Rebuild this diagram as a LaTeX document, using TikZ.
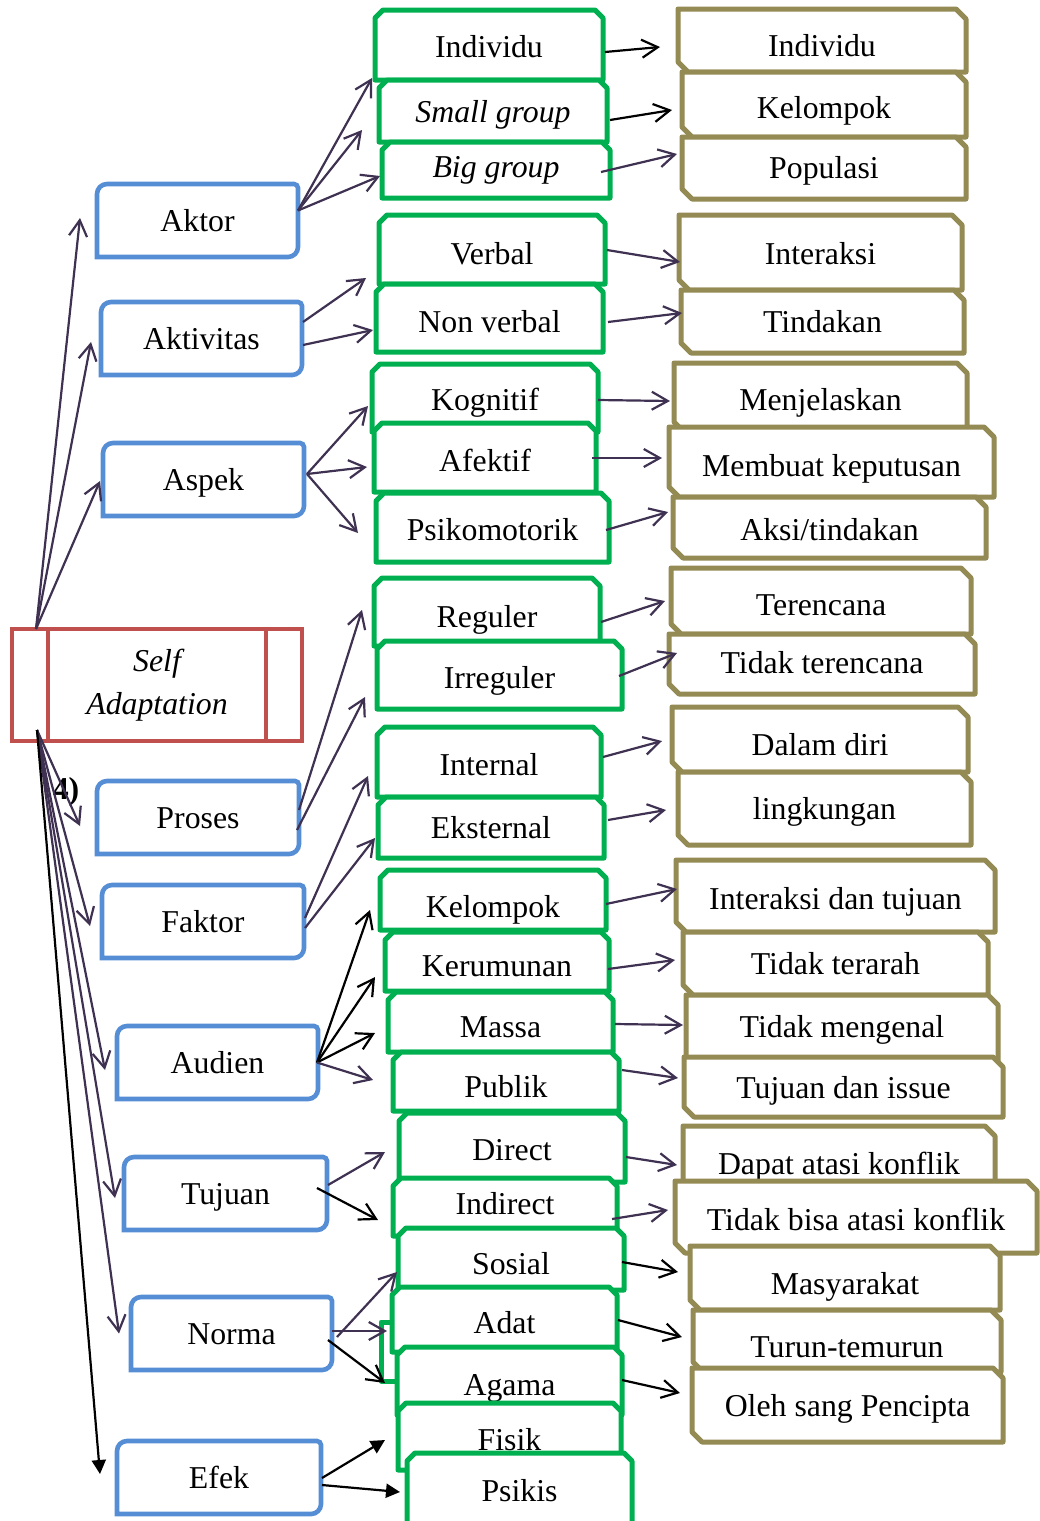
\documentclass[tikz,border=0pt]{standalone}
\usepackage{fontspec}
\setmainfont{Liberation Serif}
\usetikzlibrary{arrows.meta}
\definecolor{gcol}{HTML}{00B050}
\definecolor{ocol}{HTML}{948A54}
\definecolor{bcol}{HTML}{558ED5}
\definecolor{rcol}{HTML}{C0504D}
\definecolor{pcol}{HTML}{3F3151}
\newdimen\unitpx \unitpx=0.5pt
\tikzset{
 gline/.style={draw=gcol, fill=white, line width=2.5pt, line join=round},
 oline/.style={draw=ocol, fill=white, line width=2.5pt, line join=round},
 bline/.style={draw=bcol, fill=white, line width=2.3pt},
 rline/.style={draw=rcol, line width=2.2pt},
 tbox/.style={inner sep=0pt, outer sep=0pt, text height=14.3pt, text depth=3.8pt, font=\fontsize{15.9}{19}\selectfont},
 parr/.style={draw=pcol, line width=1.1pt, -{Straight Barb[length=8pt,width=9pt]}},
 karr/.style={draw=black, line width=1.1pt, -{Straight Barb[length=8pt,width=9pt]}},
 farr/.style={draw=black, line width=1.1pt, -{Triangle[length=7pt,width=7pt]}},
}
% name, x1, y1, x2, y2, text
\newcommand\BBox[6]{%
 \filldraw[bline] (#2,#5) [rounded corners=5pt] -- (#2,#3) [rounded corners=2pt] -- (#4,#3) [rounded corners=5pt] -- (#4,#5) [sharp corners] -- (#2,#5) -- cycle;
 \node[tbox, minimum width={(#4-#2)*0.5pt}, minimum height={(#5-#3)*0.5pt}] (#1) at ({(#2+#4)/2},{(#3+#5)/2}) {#6};}
% [drop], name, x1, y1, x2, y2, text
\newcommand\GBox[7][0]{%
 \filldraw[gline] ({#3+8},#4) -- ({#5-8},#4) -- (#5,{#4+8}) -- (#5,#6) -- (#3,#6) -- (#3,{#4+8}) -- cycle;
 \node[tbox, minimum width={(#5-#3)*0.5pt}, minimum height={(#6-#4)*0.5pt}] (#2) at ({(#3+#5)/2},{(#4+#6)/2}) {\raisebox{-#1\unitpx}{#7}};}
\newcommand\OBox[7][0]{%
 \filldraw[oline] (#3,#4) -- ({#5-10},#4) -- (#5,{#4+10}) -- (#5,#6) -- ({#3+10},#6) -- (#3,{#6-10}) -- cycle;
 \node[tbox, minimum width={(#5-#3)*0.5pt}, minimum height={(#6-#4)*0.5pt}] (#2) at ({(#3+#5)/2},{(#4+#6)/2}) {\raisebox{-#1\unitpx}{#7}};}

\begin{document}
\begin{tikzpicture}[x=0.5pt, y=-0.5pt]
\useasboundingbox[fill=white] (0,0) rectangle (1039,1521);

% left column
\BBox{aktor}{97}{184}{298}{257}{Aktor}
\BBox{aktiv}{101}{302}{302}{375}{Aktivitas}
\BBox{aspek}{103}{443}{304}{516}{Aspek}
\BBox{proses}{97}{781}{299}{854}{Proses}
\BBox{faktor}{102}{885}{304}{958}{Faktor}
\BBox{audien}{117}{1026}{318}{1099}{Audien}
\BBox{tujuan}{124}{1157}{327}{1230}{Tujuan}
\BBox{norma}{131}{1297}{332}{1370}{Norma}
\BBox{efek}{117}{1441}{321}{1514}{Efek}

% Self Adaptation
\filldraw[rline, fill=white] (12,629) rectangle (302,741);
\draw[rline] (48,629) -- (48,741);
\draw[rline] (266,629) -- (266,741);
\node[inner sep=0pt, outer sep=0pt, minimum width=145pt, minimum height=56pt, align=center,
      font=\fontsize{15.9}{21.5}\selectfont\itshape] (sa) at (157,685) {Self\\Adaptation};

\node[inner sep=0pt, font=\fontsize{15.9}{19}\selectfont\bfseries] (four) at (66,792) {4)};

% middle column
\GBox[2]{g1}{375}{10}{603}{80}{Individu}
\GBox[1]{g2}{379}{80}{607}{142}{\textit{Small group}}
\GBox[-3]{g3}{382}{142}{610}{198}{\textit{Big group}}
\GBox[4.5]{g4}{379}{215}{605}{284}{Verbal}
\GBox[4]{g5}{376}{284}{603}{352}{Non verbal}
\GBox[2]{g6}{372}{364}{598}{432}{Kognitif}
\GBox[3.5]{g7}{374}{423}{596}{492}{Afektif}
\GBox[2.5]{g8}{376}{493}{609}{562}{Psikomotorik}
\GBox[5]{g9}{374}{578}{600}{646}{Reguler}
\GBox[3]{g10}{377}{641}{622}{709}{Irreguler}
\GBox[3]{g11}{377}{727}{601}{797}{Internal}
\GBox[0.5]{g12}{378}{797}{604}{858}{Eksternal}
\GBox[7]{g13}{380}{870}{606}{930}{Kelompok}
\GBox[4.5]{g14}{385}{932}{609}{991}{Kerumunan}
\GBox[5]{g15}{388}{992}{613}{1052}{Massa}
\GBox[5.5]{g16}{393}{1052}{619}{1111}{Publik}
\GBox[2.5]{g17}{399}{1113}{625}{1182}{Direct}
\GBox[-3]{g18}{393}{1178}{617}{1236}{Indirect}
\GBox[5]{g19}{398}{1228}{624}{1290}{Sosial}
\draw[gline, fill=none] (396,1322) -- (381,1322) -- (381,1381) -- (398,1381);
\GBox[3.5]{g20}{392}{1287}{617}{1352}{Adat}
\GBox[4]{g21}{397}{1347}{622}{1415}{Agama}
\GBox[3.5]{g22}{398}{1403}{621}{1470}{Fisik}
\GBox[1.5]{g23}{407}{1453}{632}{1526}{Psikis}

% right column
\OBox[5.5]{o1}{678}{9}{966}{72}{Individu}
\OBox[3.5]{o2}{682}{72}{966}{137}{Kelompok}
\OBox[0]{o3}{682}{137}{966}{199}{Populasi}
\OBox[1.5]{o4}{679}{215}{962}{290}{Interaksi}
\OBox[0.5]{o5}{681}{290}{964}{353}{Tindakan}
\OBox[2.5]{o6}{674}{363}{967}{432}{Menjelaskan}
\OBox[4]{o7}{669}{427}{994}{497}{Membuat keputusan}
\OBox[2.5]{o8}{673}{497}{986}{558}{Aksi/tindakan}
\OBox[4]{o9}{671}{568}{971}{634}{Terencana}
\OBox[-1]{o10}{669}{634}{975}{694}{Tidak terencana}
\OBox[5.5]{o11}{672}{707}{968}{772}{Dalam diri}
\OBox[0]{o12}{678}{772}{971}{845}{lingkungan}
\OBox[3]{o13}{676}{860}{995}{932}{Interaksi dan tujuan}
\OBox[0]{o14}{683}{932}{988}{995}{Tidak terarah}
\OBox[-4.5]{o15}{686}{995}{998}{1068}{Tidak mengenal}
\OBox[1]{o16}{684}{1057}{1003}{1117}{Tujuan dan issue}
\OBox[4]{o17}{683}{1126}{995}{1194}{Dapat atasi konflik}
\OBox[3]{o18}{675}{1181}{1037}{1253}{Tidak bisa atasi konflik}
\OBox[6]{o19}{690}{1246}{1000}{1310}{Masyarakat}
\OBox[6]{o20}{693}{1310}{1001}{1372}{Turun-temurun}
\OBox[1]{o21}{692}{1368}{1003}{1442}{Oleh sang Pencipta}

% arrows from Self Adaptation
\draw[parr] ([shift={(24,0)}]sa.north west) -- ([shift={(-17,-2.5)}]aktor.west);
\draw[parr] ([shift={(24,0)}]sa.north west) -- ([shift={(-10,3.5)}]aktiv.west);
\draw[parr] ([shift={(24,0)}]sa.north west) -- ([shift={(-3,1.5)}]aspek.west);
\draw[parr] ([shift={(25,-11)}]sa.south west) -- ([shift={(-17,8.5)}]proses.west);
\draw[parr] ([shift={(25,-11)}]sa.south west) -- ([shift={(-12,4.5)}]faktor.west);
\draw[parr] ([shift={(25,-11)}]sa.south west) -- ([shift={(-12,7.5)}]audien.west);
\draw[parr] ([shift={(25,-11)}]sa.south west) -- ([shift={(-9,4.5)}]tujuan.west);
\draw[parr] ([shift={(25,-11)}]sa.south west) -- ([shift={(-12,0)}]norma.west);
\draw[farr] ([shift={(25,-11)}]sa.south west) -- ([shift={(-17,-3.5)}]efek.west);

% left to middle
\draw[parr] ([shift={(0,-10)}]aktor.east) -- ([shift={(-3,33)}]g1.west);
\draw[parr] ([shift={(0,-10)}]aktor.east) -- ([shift={(-17,19)}]g2.west);
\draw[parr] ([shift={(0,-10)}]aktor.east) -- ([shift={(-2,6)}]g3.west);
\draw[parr] ([shift={(1,-16.5)}]aktiv.east) -- ([shift={(-13,28.5)}]g4.west);
\draw[parr] ([shift={(1,6.5)}]aktiv.east) -- ([shift={(-3,12)}]g5.west);
\draw[parr] ([shift={(3,-5.5)}]aspek.east) -- ([shift={(-4,8)}]g6.west);
\draw[parr] ([shift={(3,-5.5)}]aspek.east) -- ([shift={(-7,9.5)}]g7.west);
\draw[parr] ([shift={(3,-5.5)}]aspek.east) -- ([shift={(-18,5.5)}]g8.west);
\draw[parr] ([shift={(0,-7.5)}]proses.east) -- ([shift={(-12,-2)}]g9.west);
\draw[parr] ([shift={(-2,12.5)}]proses.east) -- ([shift={(-12,22)}]g10.west);
\draw[parr] ([shift={(1,-3.5)}]faktor.east) -- ([shift={(-9,14)}]g11.west);
\draw[parr] ([shift={(1,6.5)}]faktor.east) -- ([shift={(-3,10.5)}]g12.west);
\draw[karr] ([shift={(-1,0)}]audien.east) -- ([shift={(-10,10)}]g13.west);
\draw[karr] ([shift={(-1,0)}]audien.east) -- ([shift={(-10,15.5)}]g14.west);
\draw[karr] ([shift={(-1,0)}]audien.east) -- ([shift={(-13,11)}]g15.west);
\draw[parr] ([shift={(-1,0)}]audien.east) -- ([shift={(-20,-1.5)}]g16.west);
\draw[parr] ([shift={(1,-8.5)}]tujuan.east) -- ([shift={(-14,4.5)}]g17.west);
\draw[karr] ([shift={(-10,-5.5)}]tujuan.east) -- ([shift={(-15,13)}]g18.west);
\draw[parr] ([shift={(5,3.5)}]norma.east) -- ([shift={(-1,13)}]g19.west);
\draw[parr] ([shift={(0,-2.5)}]norma.east) -- ([shift={(-5,11.5)}]g20.west);
\draw[karr] ([shift={(-4,6.5)}]norma.east) -- ([shift={(-12,2)}]g21.west);
\draw[farr] ([shift={(1,0.5)}]efek.east) -- ([shift={(-13,3.5)}]g22.west);
\draw[farr] ([shift={(1,7.5)}]efek.east) -- ([shift={(-7,2.5)}]g23.west);

% middle to right
\draw[karr] ([shift={(2,7)}]g1.east) -- ([shift={(-18,6.5)}]o1.west);
\draw[karr] ([shift={(3,9)}]g2.east) -- ([shift={(-10,5.5)}]o2.west);
\draw[parr] ([shift={(-9,2)}]g3.east) -- ([shift={(-5,-14)}]o3.west);
\draw[parr] ([shift={(2,0.5)}]g4.east) -- ([shift={(1,9.5)}]o4.west);
\draw[parr] ([shift={(5,4)}]g5.east) -- ([shift={(1,-8.5)}]o5.west);
\draw[parr] ([shift={(0,2)}]g6.east) -- ([shift={(-4,3.5)}]o6.west);
\draw[parr] ([shift={(-4,0.5)}]g7.east) -- ([shift={(-7,-4)}]o7.west);
\draw[parr] ([shift={(-3,2.5)}]g8.east) -- ([shift={(-5,-15.5)}]o8.west);
\draw[parr] ([shift={(1,10)}]g9.east) -- ([shift={(-6,0)}]o9.west);
\draw[parr] ([shift={(-3,1)}]g10.east) -- ([shift={(8,-11)}]o10.west);
\draw[parr] ([shift={(2,-5)}]g11.east) -- ([shift={(-10,1.5)}]o11.west);
\draw[parr] ([shift={(4,-7.5)}]g12.east) -- ([shift={(-12,1.5)}]o12.west);
\draw[parr] ([shift={(0,4)}]g13.east) -- ([shift={(1,-7)}]o13.west);
\draw[parr] ([shift={(-1,7.5)}]g14.east) -- ([shift={(-8,-3.5)}]o14.west);
\draw[parr] ([shift={(2,2)}]g15.east) -- ([shift={(-3,-6.5)}]o15.west);
\draw[parr] ([shift={(3,-11.5)}]g16.east) -- ([shift={(-6,-9)}]o16.west);
\draw[parr] ([shift={(1,9.5)}]g17.east) -- ([shift={(-6,5)}]o17.west);
\draw[parr] ([shift={(-5,12)}]g18.east) -- ([shift={(-7,-7)}]o18.west);
\draw[karr] ([shift={(-2,3)}]g19.east) -- ([shift={(-12,-6)}]o19.west);
\draw[karr] ([shift={(1,0.5)}]g20.east) -- ([shift={(-11,-4)}]o20.west);
\draw[karr] ([shift={(0,-1)}]g21.east) -- ([shift={(-12,-12)}]o21.west);
\end{tikzpicture}
\end{document}
